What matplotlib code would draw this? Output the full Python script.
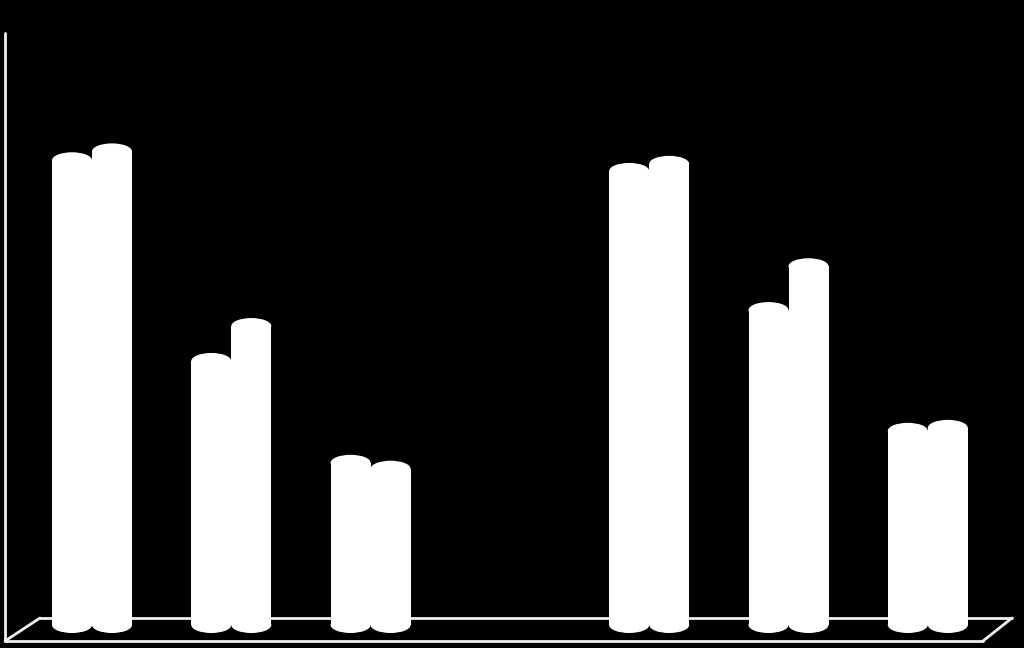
import numpy as np
import matplotlib.pyplot as plt
from matplotlib.patches import Ellipse, Rectangle

# 7 category slots, the 4th one is empty
categories = ['1', '2', '3', '4', '5', '6', '7']
series_a = [78.5, 44.6, 27.4, np.nan, 76.7, 53.2, 32.8]
series_b = [80.0, 50.5, 26.4, np.nan, 77.9, 60.6, 33.3]

W, H = 1024, 648
fig = plt.figure(figsize=(W / 100, H / 100), dpi=100, facecolor='black')
ax = fig.add_axes([0, 0, 1, 1])
ax.set_facecolor('black')
ax.set_axis_off()

# axis scale: 139.3 px per category, 5.92 px per value unit
ax.set_xlim(-92 / 139.3, (W - 92) / 139.3)
ax.set_ylim(-(H - 625) / 5.92, 100 + 33 / 5.92)

bw = 40 / 139.3      # bar (cylinder) width
cap = 16 / 5.92      # ellipse height of cylinder caps


def cylinder(xc, v):
    if np.isnan(v):
        return
    ax.add_patch(Ellipse((xc, 0), bw, cap, facecolor='white', edgecolor='none', zorder=3))
    ax.add_patch(Rectangle((xc - bw / 2, 0), bw, v, facecolor='white', edgecolor='none', zorder=3))
    ax.add_patch(Ellipse((xc, v), bw, cap, facecolor='white', edgecolor='none', zorder=3))


x = np.arange(len(categories))
for i in x:
    cylinder(i - bw / 2, series_a[i])
    cylinder(i + bw / 2, series_b[i])

# wall line and floor outline (axes fractions)
def px(xp, yp):
    return xp / W, 1 - yp / H

lc = '#f0f0f0'
for (x0, y0), (x1, y1) in [((5, 33), (5, 641)),
                           ((5, 641), (983, 641)),
                           ((5, 641), (40, 618)),
                           ((40, 618), (1012, 618)),
                           ((983, 641), (1012, 618))]:
    a, b = px(x0, y0)
    c, d = px(x1, y1)
    ax.plot([a, c], [b, d], color=lc, lw=2, transform=ax.transAxes, zorder=1,
            solid_capstyle='round')

fig.savefig('out.png', dpi=100, facecolor='black')
